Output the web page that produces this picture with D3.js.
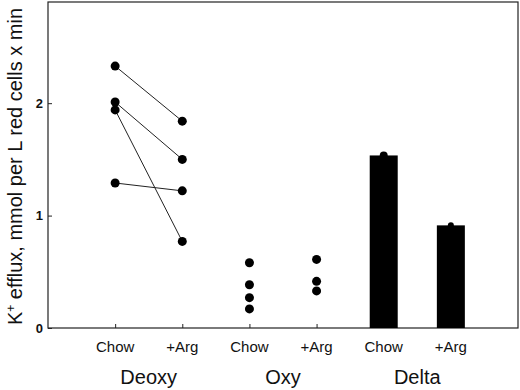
<!DOCTYPE html>
<html>
<head>
<meta charset="utf-8">
<script src="https://cdn.jsdelivr.net/npm/d3@7"></script>
<style>
  body { margin: 0; background: #fff; }
  svg { display: block; font-family: 'Liberation Sans', Arial, sans-serif; }
</style>
</head>
<body>
<svg width="520" height="390"></svg>
<script>
// tick labels along the x axis (positions 1..6) and the group names under them
const categories = ['Chow', '+Arg', 'Chow', '+Arg', 'Chow', '+Arg'];
const groups = ['Deoxy', 'Oxy', 'Delta'];

// deoxy: paired subjects, chow -> +arg
const deoxyChow = [2.33, 2.01, 1.94, 1.29];
const deoxyArg  = [1.84, 1.50, 0.77, 1.22];

// oxy: unpaired points
const oxyChow = [0.58, 0.385, 0.27, 0.17];
const oxyArg  = [0.61, 0.415, 0.33];

// delta: mean bars
const deltaMeans = [1.535, 0.913];

const yTicks = [0, 1, 2];

(function (d3) {
  'use strict';

  const svg = d3.select('svg');
  const width = +svg.attr('width');
  const height = +svg.attr('height');
  const margin = { top: 2, right: 2, bottom: 62, left: 48 };
  const innerWidth = width - margin.left - margin.right;
  const innerHeight = height - margin.top - margin.bottom;

  const xScale = d3.scaleLinear()
    .domain([0, categories.length + 1])
    .range([0, innerWidth]);

  const yScale = d3.scaleLinear()
    .domain([0, 2.9])
    .range([innerHeight, 0]);

  const g = svg.append('g')
    .attr('transform', `translate(${margin.left},${margin.top})`);

  // frame
  g.append('rect')
    .attr('width', innerWidth)
    .attr('height', innerHeight)
    .attr('fill', 'none')
    .attr('stroke', '#222')
    .attr('stroke-width', 1.2);

  // y axis, ticks pointing inward
  const yAxis = d3.axisRight(yScale)
    .tickValues(yTicks)
    .tickFormat(d3.format('d'))
    .tickSize(4)
    .tickPadding(-16);
  const yAxisG = g.append('g').call(yAxis);
  yAxisG.select('.domain').remove();
  yAxisG.selectAll('.tick line').attr('stroke', '#222');
  yAxisG.selectAll('.tick text')
    .attr('x', -5)
    .attr('text-anchor', 'end')
    .style('font-size', '13px')
    .style('font-weight', 'bold')
    .attr('fill', '#111');

  // x axis, ticks pointing inward
  const xAxis = d3.axisTop(xScale)
    .tickValues(d3.range(1, categories.length + 1))
    .tickFormat('')
    .tickSize(4);
  const xAxisG = g.append('g')
    .attr('transform', `translate(0,${innerHeight})`)
    .call(xAxis);
  xAxisG.select('.domain').remove();
  xAxisG.selectAll('.tick line').attr('stroke', '#222');

  g.append('g').selectAll('text')
    .data(categories)
    .enter().append('text')
      .attr('x', (d, i) => xScale(i + 1))
      .attr('y', innerHeight + 24)
      .attr('text-anchor', 'middle')
      .style('font-size', '15px')
      .attr('fill', '#111')
      .text(d => d);

  g.append('g').selectAll('text')
    .data(groups)
    .enter().append('text')
      .attr('x', (d, i) => xScale(i * 2 + 1.5))
      .attr('y', innerHeight + 56)
      .attr('text-anchor', 'middle')
      .style('font-size', '20px')
      .attr('fill', '#111')
      .text(d => d);

  // y label
  const yLabel = svg.append('text')
    .attr('transform', `translate(22,${(5 + 328) / 2}) rotate(-90)`)
    .attr('text-anchor', 'middle')
    .style('font-size', '20px')
    .attr('fill', '#111');
  yLabel.append('tspan').text('K');
  yLabel.append('tspan')
    .attr('baseline-shift', 'super')
    .style('font-size', '12px')
    .text('+');
  yLabel.append('tspan').text(' efflux, mmol per L red cells x min');

  // deoxy pairs
  const pairs = deoxyChow.map((v, i) => [v, deoxyArg[i]]);
  g.append('g').selectAll('line')
    .data(pairs)
    .enter().append('line')
      .attr('x1', xScale(1))
      .attr('x2', xScale(2))
      .attr('y1', d => yScale(d[0]))
      .attr('y2', d => yScale(d[1]))
      .attr('stroke', '#222')
      .attr('stroke-width', 1);

  const points = [
    ...deoxyChow.map(v => ({ x: 1, v })),
    ...deoxyArg.map(v => ({ x: 2, v })),
    ...oxyChow.map(v => ({ x: 3, v })),
    ...oxyArg.map(v => ({ x: 4, v }))
  ];
  g.append('g').selectAll('circle')
    .data(points)
    .enter().append('circle')
      .attr('cx', d => xScale(d.x))
      .attr('cy', d => yScale(d.v))
      .attr('r', 4.5)
      .attr('fill', '#000');

  // delta bars
  const barWidth = 28;
  g.append('g').selectAll('rect')
    .data(deltaMeans)
    .enter().append('rect')
      .attr('x', (d, i) => xScale(i + 5) - barWidth / 2)
      .attr('y', d => yScale(d))
      .attr('width', barWidth)
      .attr('height', d => innerHeight - yScale(d))
      .attr('fill', '#000');

  g.append('g').selectAll('circle')
    .data(deltaMeans)
    .enter().append('circle')
      .attr('cx', (d, i) => xScale(i + 5))
      .attr('cy', d => yScale(d))
      .attr('r', (d, i) => i === 0 ? 4 : 3)
      .attr('fill', '#000');

}(d3));
</script>
</body>
</html>
